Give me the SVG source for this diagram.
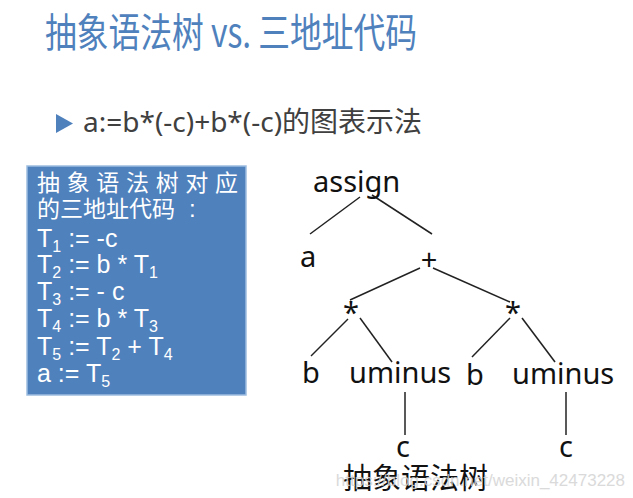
<svg xmlns="http://www.w3.org/2000/svg" width="633" height="498" viewBox="0 0 633 498">
<style>
.title{font-family:"Noto Sans CJK SC","Noto Sans",sans-serif;font-size:40px;fill:#4f81bd}
.bullet{font-family:"Noto Sans","Noto Sans CJK SC",sans-serif;font-size:28px;fill:#404040}
.boxcjk{font-family:"Noto Sans CJK SC",sans-serif;font-size:23px;fill:#fff}
.code{font-family:"Liberation Sans",Arial,sans-serif;font-size:25px;fill:#fff}
.sub{font-size:16px}
.tree{font-family:"Noto Sans","Noto Sans CJK SC",sans-serif;font-size:29px;fill:#111}
.edge{stroke:#222;stroke-width:1.5;fill:none}
.wm{font-family:"Liberation Sans",Arial,sans-serif;font-size:17px;fill:#d4d4d4;opacity:0.85}
</style>
<rect width="633" height="498" fill="#fff"/>
<g id="title"><text class="title" x="45" y="47" textLength="372" lengthAdjust="spacingAndGlyphs">抽象语法树 vs. 三地址代码</text></g>
<g id="bullet">
<polygon points="56,114 73,123.5 56,133" fill="#4f81bd"/>
<text class="bullet" x="83" y="132">a:=b*(-c)+b*(-c)的图表示法</text>
</g>
<g id="code-box">
<rect x="27" y="166" width="219" height="229" fill="#4f81bd" stroke="#9dbde0" stroke-width="1.5"/>
<text class="boxcjk" x="37" y="191" textLength="201">抽象语法树对应</text>
<text class="boxcjk" x="37" y="217">的三地址代码<tspan x="189" font-family="Liberation Sans,sans-serif" font-size="24">:</tspan></text>
<text class="code" x="37" y="247">T<tspan class="sub" dy="5">1</tspan><tspan dy="-5"> := -c</tspan></text>
<text class="code" x="37" y="273">T<tspan class="sub" dy="5">2</tspan><tspan dy="-5"> := b * T</tspan><tspan class="sub" dy="5">1</tspan></text>
<text class="code" x="37" y="300">T<tspan class="sub" dy="5">3</tspan><tspan dy="-5"> := - c</tspan></text>
<text class="code" x="37" y="327">T<tspan class="sub" dy="5">4</tspan><tspan dy="-5"> := b * T</tspan><tspan class="sub" dy="5">3</tspan></text>
<text class="code" x="37" y="355">T<tspan class="sub" dy="5">5</tspan><tspan dy="-5"> := T</tspan><tspan class="sub" dy="5">2</tspan><tspan dy="-5"> + T</tspan><tspan class="sub" dy="5">4</tspan></text>
<text class="code" x="37" y="382">a := T<tspan class="sub" dy="5">5</tspan></text>
</g>
<g id="connectors">
<line class="edge" x1="360" y1="197" x2="310" y2="234"/>
<line class="edge" x1="372" y1="195" x2="432" y2="234"/>
<line class="edge" x1="420" y1="268" x2="350" y2="300"/>
<line class="edge" x1="433" y1="268" x2="510" y2="302"/>
<line class="edge" x1="348" y1="319" x2="311" y2="356"/>
<line class="edge" x1="360" y1="318" x2="392" y2="362"/>
<line class="edge" x1="510" y1="318" x2="472" y2="357"/>
<line class="edge" x1="522" y1="318" x2="555" y2="362"/>
<line class="edge" x1="405" y1="392" x2="405" y2="435"/>
<line class="edge" x1="566" y1="392" x2="566" y2="435"/>
</g>
<g id="n-assign"><text class="tree" x="313" y="192">assign</text></g>
<g id="n-a"><text class="tree" x="300" y="267">a</text></g>
<g id="n-plus"><text class="tree" x="429" y="270" text-anchor="middle">+</text></g>
<g id="n-mul1"><text class="tree" x="351" y="323" text-anchor="middle">*</text></g>
<g id="n-mul2"><text class="tree" x="513" y="323" text-anchor="middle">*</text></g>
<g id="n-b1"><text class="tree" x="302" y="383">b</text></g>
<g id="n-uminus1"><text class="tree" x="349" y="383">uminus</text></g>
<g id="n-b2"><text class="tree" x="466" y="385">b</text></g>
<g id="n-uminus2"><text class="tree" x="512" y="384">uminus</text></g>
<g id="n-c1"><text class="tree" x="403" y="457" text-anchor="middle">c</text></g>
<g id="n-c2"><text class="tree" x="566" y="457" text-anchor="middle">c</text></g>
<g id="caption"><text class="tree" x="343" y="489" font-family="Noto Sans CJK SC,sans-serif">抽象语法树</text></g>
<g id="watermark"><text class="wm" x="625" y="486" text-anchor="end">https://blog.csdn.net/weixin_42473228</text></g>
</svg>
